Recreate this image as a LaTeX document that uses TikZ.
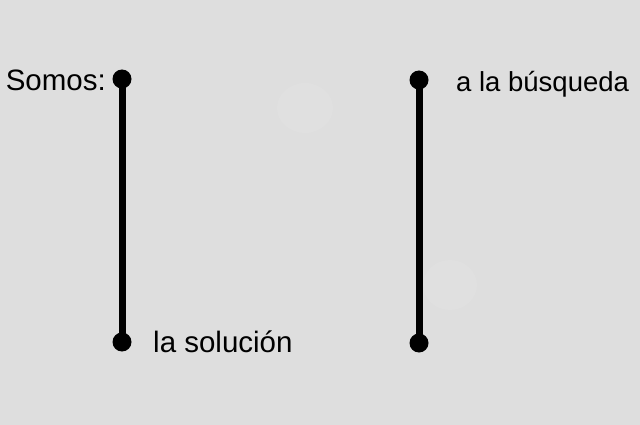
\documentclass[tikz,border=0pt]{standalone}
\usepackage{fontspec}
\setmainfont{Liberation Sans}
\definecolor{bg}{HTML}{DEDEDE}
\definecolor{ghost}{HTML}{E0E0E0}
\begin{document}
\begin{tikzpicture}[x=1pt,y=-1pt,
  dot/.style={circle,fill=black,inner sep=0pt,minimum size=19pt},
  bar/.style={line width=7pt},
  lbl/.style={inner sep=0pt,font=\fontsize{29.5}{32}\selectfont}]
\fill[bg] (0,0) rectangle (640,425);
\useasboundingbox (0,0) rectangle (640,425);
\fill[ghost] (305,108) ellipse (28 and 25);
\fill[ghost] (450,285) ellipse (27 and 25);
\node[dot] (tl) at (122,79) {};
\node[dot] (bl) at (122,342) {};
\node[dot] (tr) at (419,80) {};
\node[dot] (br) at (419,343) {};
\draw[bar] (tl.center) -- (bl.center);
\draw[bar] (tr.center) -- (br.center);
\node[lbl,anchor=mid east] (t1) at (106,88) {Somos:};
\node[lbl,anchor=mid west] (t2) at (153,350) {la solución};
\node[lbl,anchor=mid west,font=\fontsize{27.5}{30}\selectfont] (t3) at (456,89) {a la búsqueda};
\end{tikzpicture}
\end{document}
